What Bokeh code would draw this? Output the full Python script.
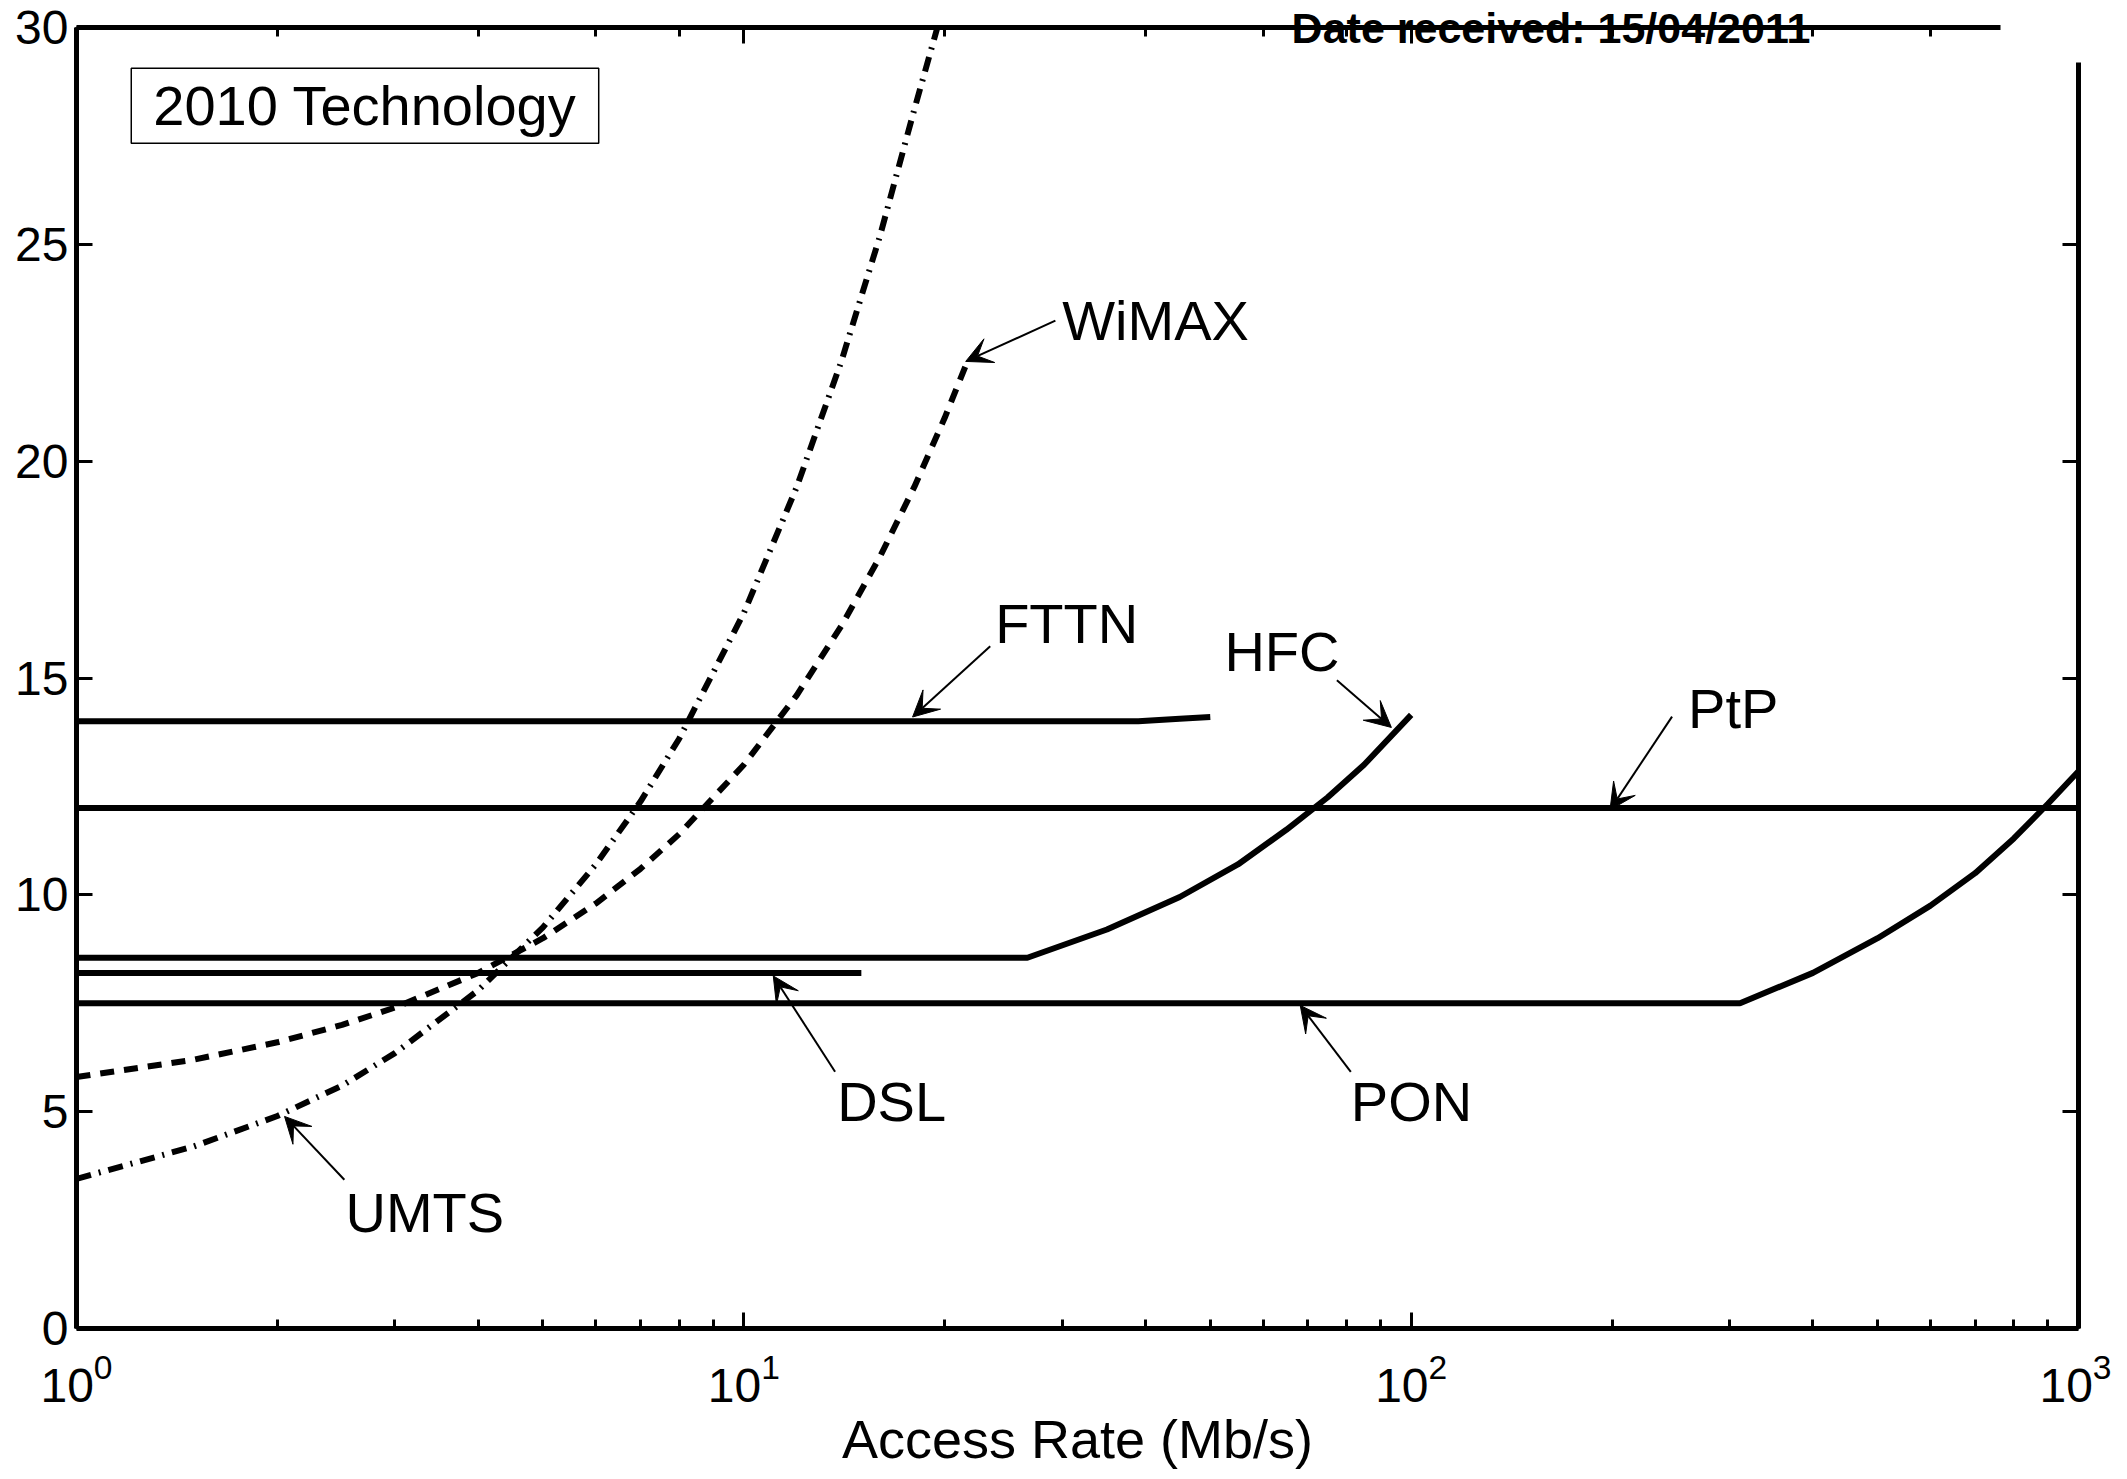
from bokeh.plotting import figure
from bokeh.models import (Range1d, LogAxis, LinearAxis, FixedTicker, Label, Arrow, VeeHead,
                          ColumnDataSource, CustomJSTickFormatter)
from bokeh.core.properties import value
from bokeh.embed import file_html
from bokeh.resources import INLINE

FONT = "Liberation Sans"

# ---- data ----
fttn_x = [1, 39, 45, 50]
fttn_y = [14.0, 14.0, 14.06, 14.1]

ptp_x = [1, 1000]
ptp_y = [12.0, 12.0]

hfc_x = [1, 26.6, 35, 45, 55, 65, 75, 85, 100]
hfc_y = [8.55, 8.55, 9.2, 9.95, 10.7, 11.5, 12.25, 13.0, 14.15]

dsl_x = [1, 15]
dsl_y = [8.2, 8.2]

pon_x = [1, 311, 400, 500, 600, 700, 800, 900, 1000]
pon_y = [7.5, 7.5, 8.2, 9.0, 9.75, 10.5, 11.3, 12.1, 12.85]

wimax_x = [1, 1.5, 2, 2.5, 3, 4, 5, 6, 7, 8, 10, 12, 14, 16, 18, 20, 21.5]
wimax_y = [5.8, 6.2, 6.6, 7.0, 7.4, 8.2, 9.0, 9.8, 10.6, 11.4, 13.0, 14.6, 16.2, 17.8, 19.4, 21.0, 22.2]

umts_x = [1, 1.5, 2, 2.5, 3, 4, 5, 6, 7, 8, 10, 12, 14, 16, 18, 19.5]
umts_y = [3.45, 4.2, 4.9, 5.6, 6.35, 7.8, 9.25, 10.7, 12.15, 13.6, 16.5, 19.4, 22.3, 25.2, 28.1, 30.0]

y_ticks = [0, 5, 10, 15, 20, 25, 30]
y_ticks_right = [0, 5, 10, 15, 20, 25]

# annotation labels: name, text-left x, text-middle y
label_names = ["WiMAX", "FTTN", "HFC", "PtP", "DSL", "PON", "UMTS"]
label_x = [30.0, 23.8, 52.5, 260.0, 13.8, 81.2, 2.53]
label_y = [23.24, 16.26, 15.6, 14.3, 5.23, 5.23, 2.68]
# arrows: tail -> tip
arrow_x0 = [29.3, 23.4, 77.4, 246.0, 13.7, 81.2, 2.52]
arrow_y0 = [23.24, 15.73, 14.95, 14.11, 5.92, 5.92, 3.43]
arrow_x1 = [21.5, 17.9, 93.4, 198.6, 11.07, 68.2, 2.05]
arrow_y1 = [22.3, 14.1, 13.86, 11.96, 8.13, 7.45, 4.89]

STAMP_TEXT = "Date received: 15/04/2011"
STAMP_X = 162.0   # centre of the stamp along the top edge

# ---- figure ----
p = figure(width=2111, height=1471, x_axis_type="log",
           x_range=Range1d(1, 1000), y_range=Range1d(0, 30),
           output_backend="svg", toolbar_location=None,
           min_border_left=76, min_border_right=33, min_border_top=27, min_border_bottom=133)
p.grid.visible = False
p.outline_line_color = None
p.background_fill_color = "white"
p.border_fill_color = "white"

LW = 6
p.line(fttn_x, fttn_y, line_color="black", line_width=LW)
p.line(ptp_x, ptp_y, line_color="black", line_width=LW)
p.line(hfc_x, hfc_y, line_color="black", line_width=LW)
p.line(dsl_x, dsl_y, line_color="black", line_width=LW)
p.line(pon_x, pon_y, line_color="black", line_width=LW)
p.line(wimax_x, wimax_y, line_color="black", line_width=LW, line_dash="14 10")
p.line(umts_x, umts_y, line_color="black", line_width=LW, line_dash="15 8 2 8")

# annotation arrows
for xs, ys, xe, ye in zip(arrow_x0, arrow_y0, arrow_x1, arrow_y1):
    p.add_layout(Arrow(end=VeeHead(size=26, fill_color="black", line_color="black", line_width=1),
                       x_start=xs, y_start=ys, x_end=xe, y_end=ye,
                       line_color="black", line_width=2))

src = ColumnDataSource(dict(x=label_x, y=label_y, t=label_names))
p.text(x="x", y="y", text="t", source=src, text_font=value(FONT), text_font_size="56px",
       text_align="left", text_baseline="middle", text_color="black")

# axes styling
def style_axis(ax, labels=True):
    ax.axis_line_width = 5
    ax.axis_line_color = "black"
    ax.major_tick_line_width = 3
    ax.minor_tick_line_width = 3
    ax.major_tick_in = 16
    ax.major_tick_out = 0
    ax.minor_tick_in = 9
    ax.minor_tick_out = 0
    ax.major_label_text_font = FONT
    ax.major_label_text_color = "black"
    if not labels:
        ax.formatter = CustomJSTickFormatter(code="return ''")
        ax.major_label_text_font_size = "1px"
        ax.major_label_standoff = 0

xb = p.xaxis[0]
style_axis(xb)
xb.major_label_text_font_size = "48px"
xb.major_label_standoff = 24
xb.axis_label = "Access Rate (Mb/s)"
xb.axis_label_text_font = FONT
xb.axis_label_text_font_size = "54px"
xb.axis_label_text_font_style = "normal"
xb.axis_label_text_color = "black"
xb.axis_label_standoff = 4

yl = p.yaxis[0]
style_axis(yl)
yl.ticker = FixedTicker(ticks=y_ticks)
yl.minor_tick_line_color = None
yl.major_label_text_font_size = "48px"
yl.major_label_standoff = 8

# top frame line (hidden at the right end by the scanned stamp)
xt = LogAxis(bounds=(1, 764))
style_axis(xt, labels=False)
p.add_layout(xt, "above")

# right frame line (starts a little below the top, under the stamp)
yr = LinearAxis(ticker=FixedTicker(ticks=y_ticks_right), bounds=(0, 29.2))
style_axis(yr, labels=False)
yr.minor_tick_line_color = None
p.add_layout(yr, "right")

# scanned "Date received" stamp sitting on the top frame line
xs_ = LinearAxis(ticker=FixedTicker(ticks=[STAMP_X]))
xs_.axis_line_color = None
xs_.major_tick_line_color = None
xs_.minor_tick_line_color = None
xs_.major_tick_out = 0
xs_.major_tick_in = 0
xs_.formatter = CustomJSTickFormatter(code="return '%s'" % STAMP_TEXT)
xs_.major_label_text_font = FONT
xs_.major_label_text_font_size = "43px"
xs_.major_label_text_font_style = "bold"
xs_.major_label_text_color = "black"
xs_.major_label_standoff = -24
p.add_layout(xs_, "above")

# legend-like box
p.add_layout(Label(x=1.208, y=29.06, text="2010 Technology", text_font=FONT,
                   text_font_size="56px", text_align="left", text_baseline="top",
                   text_color="black",
                   border_line_color="black", border_line_width=1.5,
                   background_fill_color="white", padding=(22, 6)))

open("out.html", "w").write(file_html(p, INLINE))
